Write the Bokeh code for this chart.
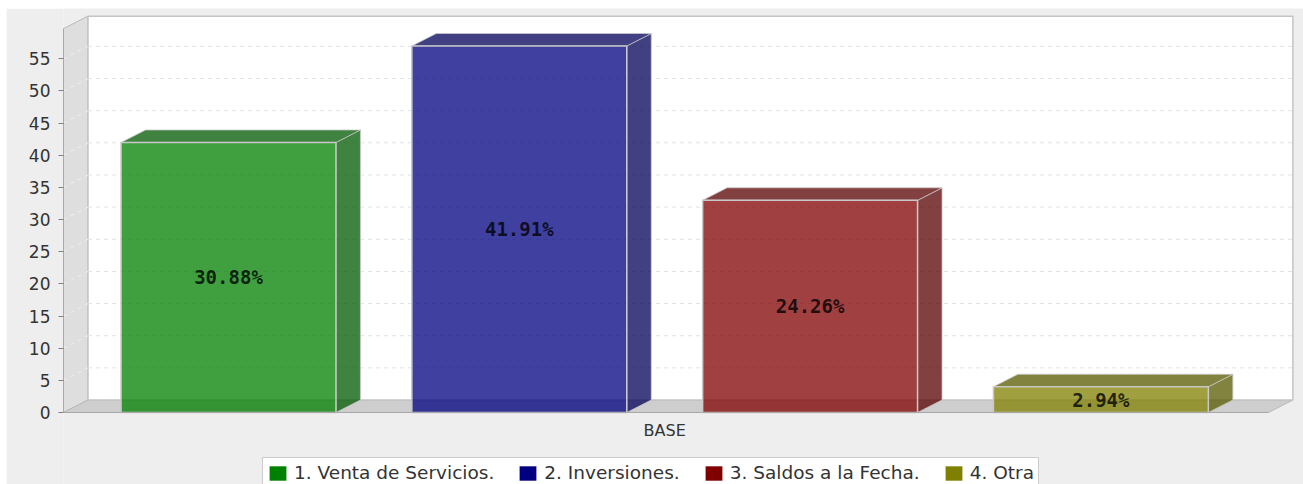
from bokeh.core.properties import value
from bokeh.embed import file_html
from bokeh.models import FixedTicker, Legend, LegendItem, Range1d
from bokeh.plotting import figure
from bokeh.resources import INLINE

series_names = ["1. Venta de Servicios.", "2. Inversiones.", "3. Saldos a la Fecha.", "4. Otra"]
series_values = [42, 57, 33, 4]
series_labels = ["30.88%", "41.91%", "24.26%", "2.94%"]
series_colors = ["#008000", "#000080", "#800000", "#808000"]
series_dark = ["#005900", "#000059", "#590000", "#595900"]
y_ticks = [0, 5, 10, 15, 20, 25, 30, 35, 40, 45, 50, 55]
category = "BASE"

BAR_W = 0.739
DX = 0.0842
DY = 1.94
X0, X1 = -0.5674, 3.576
TOP = 59.7
BG = "#EEEEEE"

p = figure(width=1297, height=476, output_backend="svg", toolbar_location=None,
           x_range=Range1d(X0, 3.6967), y_range=Range1d(-11.2, 62.83),
           background_fill_color=BG, border_fill_color=BG, outline_line_color=None,
           min_border_left=57, min_border_right=0, min_border_top=0, min_border_bottom=0,
           margin=(8, 0, 0, 6))
p.grid.visible = False

# Legend keys (solid colours, zero-area marks that only feed the legend)
keys = [p.quad(left=[i], right=[i], bottom=[0], top=[0], fill_color=c, line_color=None)
        for i, c in enumerate(series_colors)]

# 3D chart box
p.patch([X0, X0 + DX, X0 + DX, X0], [0, DY, TOP + DY, TOP],
        fill_color="#DEDEDE", line_color="#B8B8B8", line_width=1)
p.patch([X0, X0 + DX, X1 + DX, X1], [0, DY, DY, 0],
        fill_color="#CECECE", line_color="#B8B8B8", line_width=1)
p.quad(left=[X0 + DX], right=[X1 + DX], bottom=[DY], top=[TOP + DY],
       fill_color="#FFFFFF", line_color="#C4C4C4", line_width=1.5)

# Grid on the back wall and left wall
gt = [t for t in y_ticks if t > 0]
p.segment([X0 + DX] * len(gt), [t + DY for t in gt], [X1 + DX] * len(gt), [t + DY for t in gt],
          line_color="#E2E2E2", line_dash="4 4", line_width=1)
p.segment([X0] * len(gt), gt, [X0 + DX] * len(gt), [t + DY for t in gt],
          line_color="#EEEEEE", line_dash="4 4", line_width=1)

# Bars
OUT = "#C8C8C8"
for i, v in enumerate(series_values):
    l, r = i - BAR_W / 2, i + BAR_W / 2
    p.patch([r, r + DX, r + DX, r], [0, DY, v + DY, v],
            fill_color=series_dark[i], fill_alpha=0.75, line_color=OUT, line_alpha=0.75)
    p.patch([l, l + DX, r + DX, r], [v, v + DY, v + DY, v],
            fill_color=series_dark[i], fill_alpha=0.75, line_color=OUT, line_alpha=0.75)
    p.quad(left=[l], right=[r], bottom=[0], top=[v],
           fill_color=series_colors[i], fill_alpha=0.75, line_color=OUT, line_width=1.5)

p.text(x=list(range(4)), y=[v / 2 for v in series_values], text=series_labels,
       text_align="center", text_baseline="middle", text_font=value("DejaVu Sans Mono"),
       text_font_style="bold", text_font_size="19px", text_color="#000000", text_alpha=0.8)

# Axes
p.yaxis.ticker = FixedTicker(ticks=y_ticks)
p.yaxis.bounds = (0, TOP)
p.yaxis.axis_line_color = "#A8A8A8"
p.yaxis.major_tick_line_color = "#808080"
p.yaxis.major_tick_in = 0
p.yaxis.major_tick_out = 5
p.yaxis.minor_tick_line_color = None
p.yaxis.major_label_text_font = "DejaVu Sans"
p.yaxis.major_label_text_font_size = "17px"
p.yaxis.major_label_text_color = "#333333"
p.yaxis.major_label_standoff = 8

p.xaxis.fixed_location = 0
p.xaxis.ticker = FixedTicker(ticks=[1.5])
p.xaxis.major_label_overrides = {1.5: category}
p.xaxis.bounds = (X0, X1)
p.xaxis.axis_line_color = "#A8A8A8"
p.xaxis.major_tick_line_color = None
p.xaxis.minor_tick_line_color = None
p.xaxis.major_label_text_font = "DejaVu Sans"
p.xaxis.major_label_text_font_size = "16px"
p.xaxis.major_label_text_color = "#333333"
p.xaxis.major_label_standoff = 3

legend = Legend(items=[LegendItem(label=n, renderers=[k]) for n, k in zip(series_names, keys)],
                orientation="horizontal", location=(199, -4),
                background_fill_color="#FFFFFF", background_fill_alpha=1,
                border_line_color="#999999", border_line_width=1,
                label_text_font="DejaVu Sans", label_text_font_size="18.5px", label_text_color="#333333",
                glyph_width=21, glyph_height=18, label_height=16, label_standoff=6,
                padding=4, spacing=23, margin=0)
legend.label_text_baseline = "middle"
p.add_layout(legend, "center")

open("out.html", "w").write(file_html(p, INLINE))
